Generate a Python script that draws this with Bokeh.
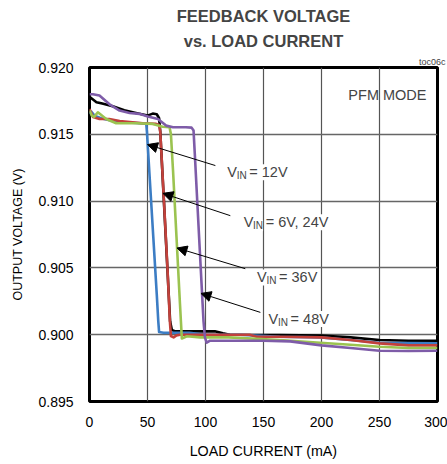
from bokeh.plotting import figure
from bokeh.models import Label, Arrow, NormalHead, FixedTicker, NumeralTickFormatter, Title
from bokeh.embed import file_html
from bokeh.resources import INLINE

# ---------------- data ----------------
x_ticks = [0, 50, 100, 150, 200, 250, 300]
y_ticks = [0.895, 0.900, 0.905, 0.910, 0.915, 0.920]

cur_vin6 = [0, 3, 6, 11, 20, 30, 40, 50, 54.5, 58, 60, 61, 64, 67, 69.5, 71, 74, 81, 108, 115, 121, 164, 199, 225, 250, 275, 300]
v_vin6 = [0.9178, 0.9176, 0.9174, 0.9173, 0.9171, 0.9168, 0.9166, 0.9164, 0.91655, 0.9165, 0.9162, 0.9152, 0.9102, 0.9052, 0.9010, 0.90035, 0.90025, 0.90025, 0.90025, 0.9001, 0.9000, 0.89998, 0.89993, 0.8998, 0.8996, 0.89955, 0.89955]

cur_vin12 = [0, 1.5, 4.3, 10, 20, 30, 40, 48.9, 49.5, 52, 55, 58, 59.3, 60, 63.8, 86, 101, 130, 164, 199, 225, 250, 275, 300]
v_vin12 = [0.91652, 0.9167, 0.9164, 0.9162, 0.9160, 0.9159, 0.91585, 0.9158, 0.9152, 0.9116, 0.9073, 0.9030, 0.9010, 0.9002, 0.90015, 0.90015, 0.9000, 0.9000, 0.89985, 0.8998, 0.8996, 0.8994, 0.89938, 0.89935]

cur_vin24 = [0, 3, 8.6, 17, 26, 37, 46, 57.5, 60, 61, 64.2, 67.2, 69.3, 70.2, 72.5, 75, 78, 100, 138, 144, 164, 200, 225, 250, 275, 300]
v_vin24 = [0.9169, 0.9163, 0.91615, 0.91615, 0.9160, 0.9159, 0.91583, 0.91578, 0.9157, 0.9152, 0.9100, 0.9050, 0.9010, 0.8999, 0.8998, 0.89995, 0.9000, 0.9000, 0.9000, 0.89985, 0.89985, 0.8998, 0.8996, 0.89935, 0.8992, 0.8992]

cur_vin36 = [0, 2, 4, 7.2, 14.4, 23, 40, 54.6, 63, 69, 70.2, 72, 75, 78, 78.8, 79.6, 84, 95.4, 120, 164, 199, 225, 250, 275, 300]
v_vin36 = [0.91678, 0.9164, 0.9163, 0.91665, 0.91615, 0.91583, 0.91583, 0.91578, 0.91557, 0.91553, 0.9150, 0.9123, 0.9073, 0.9023, 0.9010, 0.89972, 0.89988, 0.8998, 0.8998, 0.8996, 0.8994, 0.89925, 0.8991, 0.8990, 0.8990]

cur_vin48 = [0, 3, 8.6, 18, 25.9, 34.5, 43, 50.3, 59, 66, 72, 83, 88, 89.7, 90.8, 93, 96, 98.3, 99.5, 101, 104, 120, 150, 173, 200, 225, 250, 275, 300]
v_vin48 = [0.9180, 0.9180, 0.9179, 0.9172, 0.91678, 0.9166, 0.91653, 0.91633, 0.91615, 0.91565, 0.91553, 0.91553, 0.9155, 0.91528, 0.9135, 0.9098, 0.9048, 0.9010, 0.8998, 0.8994, 0.89955, 0.89955, 0.89955, 0.8995, 0.8992, 0.8990, 0.8988, 0.89878, 0.8988]

FONT = "Liberation Sans"

p = figure(width=447, height=462, x_range=(0, 300), y_range=(0.895, 0.920),
           output_backend="svg", toolbar_location=None,
           min_border_left=89, min_border_right=10, min_border_top=67, min_border_bottom=61)
p.background_fill_color = "white"
p.border_fill_color = "white"
p.outline_line_color = "black"
p.outline_line_width = 3

# titles: p.title is outermost; p.above entries stack outward from the frame
p.title.text = "FEEDBACK VOLTAGE"
p.title.align = "center"
p.title.offset = -3
p.title.text_font = FONT
p.title.text_font_size = "16.5px"
p.title.text_font_style = "bold"
p.title.standoff = 2
p.add_layout(Title(text="toc06c", align="right", offset=-8, text_font=FONT,
                   text_font_size="9px", text_font_style="normal", standoff=1), "above")
p.add_layout(Title(text="vs. LOAD CURRENT", align="center", offset=-3, text_font=FONT,
                   text_font_size="16.5px", text_font_style="bold", standoff=9), "above")

p.xaxis.ticker = FixedTicker(ticks=x_ticks)
p.yaxis.ticker = FixedTicker(ticks=y_ticks)
p.yaxis.formatter = NumeralTickFormatter(format="0.000")
for ax in (p.xaxis, p.yaxis):
    ax.axis_line_color = None
    ax.major_tick_line_color = None
    ax.minor_tick_line_color = None
    ax.major_tick_out = 0
    ax.major_tick_in = 0
    ax.major_label_text_font = FONT
    ax.major_label_text_font_size = "14px"
    ax.major_label_text_color = "black"
    ax.axis_label_text_font = FONT
    ax.axis_label_text_font_style = "normal"
    ax.axis_label_text_color = "black"
p.xaxis.axis_label = "LOAD CURRENT (mA)"
p.yaxis.axis_label = "OUTPUT VOLTAGE (V)"
p.xaxis.axis_label_text_font_size = "14.3px"
p.yaxis.axis_label_text_font_size = "12.5px"
p.xaxis.major_label_standoff = 15
p.yaxis.major_label_standoff = 16
p.xaxis.axis_label_standoff = 13
p.yaxis.axis_label_standoff = 10

p.xgrid.grid_line_color = "#555555"
p.ygrid.grid_line_color = "#666666"
p.xgrid.grid_line_width = 1.2
p.ygrid.grid_line_width = 1.5

series = [
    (cur_vin6, v_vin6, "#000000"),
    (cur_vin12, v_vin12, "#3C7DC4"),
    (cur_vin24, v_vin24, "#C2413B"),
    (cur_vin36, v_vin36, "#9BC350"),
    (cur_vin48, v_vin48, "#7E5CA8"),
]
for xs, ys, c in series:
    p.line(xs, ys, line_color=c, line_width=2.6, line_join="round")

p.add_layout(Label(x=300, y=0.920, x_offset=-11, y_offset=-27, text="PFM MODE",
                   text_font=FONT, text_font_size="14.5px",
                   text_align="right", text_baseline="alphabetic"))

# arrows: (tail x, tail y, tip x, tip y)
arrows = [
    (108.5, 0.91266, 50.0, 0.91423),
    (121.4, 0.90891, 63.3, 0.91058),
    (134.3, 0.90494, 75.4, 0.90649),
    (147.3, 0.90167, 96.1, 0.90309),
]
for xs_, ys_, xe, ye in arrows:
    p.add_layout(Arrow(x_start=xs_, y_start=ys_, x_end=xe, y_end=ye, line_width=1, line_color="black",
                       end=NormalHead(size=10, fill_color="black", line_color="black")))

labels = [
    (118.8, 0.91216, "= 12V"),
    (132.9, 0.90841, "= 6V, 24V"),
    (144.4, 0.90429, "= 36V"),
    (154.4, 0.90117, "= 48V"),
]
for lx, ly, rest in labels:
    p.add_layout(Label(x=lx, y=ly, text="V", text_font=FONT, text_font_size="14.5px",
                       text_baseline="alphabetic", background_fill_color="white"))
    p.add_layout(Label(x=lx, y=ly, x_offset=9.4, y_offset=-3.5, text="IN", text_font=FONT,
                       text_font_size="10px", text_baseline="alphabetic", background_fill_color="white"))
    p.add_layout(Label(x=lx, y=ly, x_offset=22, text=rest, text_font=FONT, text_font_size="14.5px",
                       text_baseline="alphabetic", background_fill_color="white"))

open("out.html", "w").write(file_html(p, INLINE))
